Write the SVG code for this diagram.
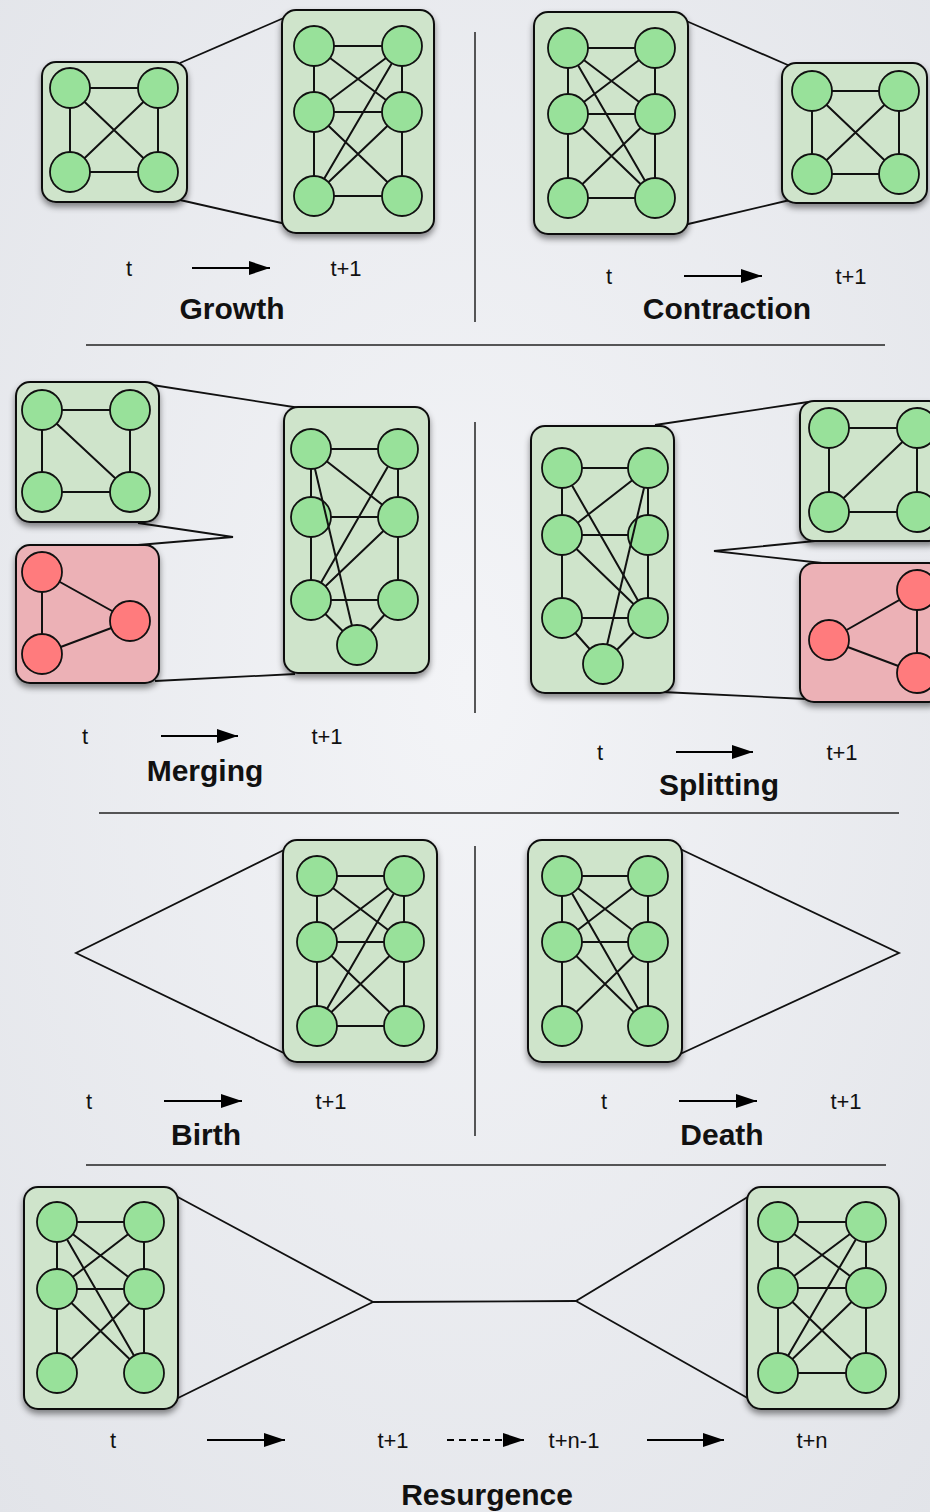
<svg xmlns="http://www.w3.org/2000/svg" width="930" height="1512" viewBox="0 0 930 1512">
  <defs>
    <radialGradient id="bg" cx="50%" cy="45%" r="75%">
      <stop offset="0" stop-color="#f3f4f7"/>
      <stop offset="1" stop-color="#e2e4e9"/>
    </radialGradient>
    <filter id="shadow" x="-20%" y="-20%" width="140%" height="140%">
      <feDropShadow dx="0" dy="4" stdDeviation="3" flood-color="#000" flood-opacity="0.45"/>
    </filter>
    <marker id="head" markerUnits="userSpaceOnUse" markerWidth="22" markerHeight="14" refX="21" refY="7" orient="auto">
      <path d="M0,0 L21,7 L0,14 z" fill="#000" stroke="none"/>
    </marker>
    <style>
      .box { fill: #cfe4cb; stroke: #111; stroke-width: 2; filter: url(#shadow); }
      .rbox { fill: #ecb1b6; stroke: #111; stroke-width: 2; filter: url(#shadow); }
      .n { fill: #98e19a; stroke: #111; stroke-width: 1.8; }
      .rn { fill: #ff7b7d; stroke: #111; stroke-width: 1.8; }
      .e { stroke: #111; stroke-width: 2; fill: none; }
      .c { stroke: #111; stroke-width: 1.8; fill: none; }
      .div { stroke: #222; stroke-width: 1.5; }
      .arr { stroke: #000; stroke-width: 1.8; marker-end: url(#head); }
      .dash { stroke-dasharray: 7 5; }
      .lbl { font-family: "Liberation Sans", Arial, sans-serif; font-size: 22px; fill: #111; text-anchor: middle; }
      .ttl { font-family: "Liberation Sans", Arial, sans-serif; font-size: 30px; font-weight: bold; fill: #111; text-anchor: middle; }
    </style>
  </defs>

  <rect width="930" height="1512" fill="url(#bg)"/>

  <!-- separators -->
  <g id="dividers">
    <line class="div" x1="475" y1="32" x2="475" y2="322"/>
    <line class="div" x1="475" y1="422" x2="475" y2="713"/>
    <line class="div" x1="475" y1="846" x2="475" y2="1136"/>
    <line class="div" x1="86" y1="345" x2="885" y2="345"/>
    <line class="div" x1="99" y1="813" x2="899" y2="813"/>
    <line class="div" x1="86" y1="1165" x2="886" y2="1165"/>
  </g>

  <!-- connectors between community snapshots -->
  <g id="connectors">
    <line class="c" x1="180" y1="63" x2="286" y2="17"/>
    <line class="c" x1="180" y1="200" x2="286" y2="224"/>
    <line class="c" x1="684" y1="20" x2="790" y2="66"/>
    <line class="c" x1="684" y1="225" x2="790" y2="200"/>
    <line class="c" x1="146" y1="384" x2="300" y2="408"/>
    <polyline class="c" points="138,523 233,537 138,545"/>
    <line class="c" x1="155" y1="681" x2="295" y2="674"/>
    <line class="c" x1="655" y1="425" x2="808" y2="402"/>
    <polyline class="c" points="815,541 714,551 822,563"/>
    <line class="c" x1="662" y1="692" x2="806" y2="699"/>
    <polyline class="c" points="288,848 76,953 288,1055"/>
    <polyline class="c" points="678,848 899,953 678,1055"/>
    <polyline class="c" points="174,1195 373,1302 174,1400"/>
    <line class="c" x1="373" y1="1302" x2="576" y2="1301"/>
    <polyline class="c" points="751,1195 576,1301 751,1400"/>
  </g>

  <!-- Growth -->
  <g id="growth-t">
    <rect class="box" x="42" y="62" width="145" height="140" rx="14"/>
    <path class="e" d="M70,88H158M70,88V172M158,88V172M70,172H158M70,88L158,172M158,88L70,172"/>
    <circle class="n" cx="70" cy="88" r="20"/><circle class="n" cx="158" cy="88" r="20"/>
    <circle class="n" cx="70" cy="172" r="20"/><circle class="n" cx="158" cy="172" r="20"/>
  </g>
  <g id="growth-t1">
    <rect class="box" x="282" y="10" width="152" height="223" rx="14"/>
    <path class="e" d="M314,46H402M314,46V196M402,46V196M314,112H402M314,196H402M314,46L402,112M402,46L314,112M402,46L314,196M314,112L402,196M402,112L314,196"/>
    <circle class="n" cx="314" cy="46" r="20"/><circle class="n" cx="402" cy="46" r="20"/>
    <circle class="n" cx="314" cy="112" r="20"/><circle class="n" cx="402" cy="112" r="20"/>
    <circle class="n" cx="314" cy="196" r="20"/><circle class="n" cx="402" cy="196" r="20"/>
  </g>

  <!-- Contraction -->
  <g id="contraction-t">
    <rect class="box" x="534" y="12" width="154" height="222" rx="14"/>
    <path class="e" d="M568,48H655M568,48V198M655,48V198M568,114H655M568,198H655M568,48L655,114M568,48L655,198M655,48L568,114M568,114L655,198M655,114L568,198"/>
    <circle class="n" cx="568" cy="48" r="20"/><circle class="n" cx="655" cy="48" r="20"/>
    <circle class="n" cx="568" cy="114" r="20"/><circle class="n" cx="655" cy="114" r="20"/>
    <circle class="n" cx="568" cy="198" r="20"/><circle class="n" cx="655" cy="198" r="20"/>
  </g>
  <g id="contraction-t1">
    <rect class="box" x="782" y="63" width="145" height="140" rx="14"/>
    <path class="e" d="M812,91H899M812,91V174M899,91V174M812,174H899M812,91L899,174M899,91L812,174"/>
    <circle class="n" cx="812" cy="91" r="20"/><circle class="n" cx="899" cy="91" r="20"/>
    <circle class="n" cx="812" cy="174" r="20"/><circle class="n" cx="899" cy="174" r="20"/>
  </g>

  <!-- Merging -->
  <g id="merging-a">
    <rect class="box" x="16" y="382" width="143" height="140" rx="14"/>
    <path class="e" d="M42,410H130M42,410V492M130,410V492M42,492H130M42,410L130,492"/>
    <circle class="n" cx="42" cy="410" r="20"/><circle class="n" cx="130" cy="410" r="20"/>
    <circle class="n" cx="42" cy="492" r="20"/><circle class="n" cx="130" cy="492" r="20"/>
  </g>
  <g id="merging-b">
    <rect class="rbox" x="16" y="545" width="143" height="138" rx="14"/>
    <path class="e" d="M42,572L130,621L42,654Z"/>
    <circle class="rn" cx="42" cy="572" r="20"/><circle class="rn" cx="130" cy="621" r="20"/>
    <circle class="rn" cx="42" cy="654" r="20"/>
  </g>
  <g id="merging-t1">
    <rect class="box" x="284" y="407" width="145" height="266" rx="14"/>
    <path class="e" d="M311,449H398M311,449V600M398,449V600M311,517H398M311,600H398M311,449L398,517M398,449L311,600M398,517L311,600M311,600L357,645M398,600L357,645"/>
    <circle class="n" cx="311" cy="449" r="20"/><circle class="n" cx="398" cy="449" r="20"/>
    <circle class="n" cx="311" cy="517" r="20"/><circle class="n" cx="398" cy="517" r="20"/>
    <circle class="n" cx="311" cy="600" r="20"/><circle class="n" cx="398" cy="600" r="20"/>
    <circle class="n" cx="357" cy="645" r="20"/>
    <path class="e" d="M315,469L352,626"/>
  </g>

  <!-- Splitting -->
  <g id="splitting-t">
    <rect class="box" x="531" y="426" width="143" height="267" rx="14"/>
    <path class="e" d="M562,468H648M562,468V618M648,468V618M562,535H648M562,618H648M562,468L648,618M648,468L562,535M562,535L648,618M562,618L603,664M648,618L603,664"/>
    <circle class="n" cx="562" cy="468" r="20"/><circle class="n" cx="648" cy="468" r="20"/>
    <circle class="n" cx="562" cy="535" r="20"/><circle class="n" cx="648" cy="535" r="20"/>
    <circle class="n" cx="562" cy="618" r="20"/><circle class="n" cx="648" cy="618" r="20"/>
    <circle class="n" cx="603" cy="664" r="20"/>
    <path class="e" d="M644,488L607,645"/>
  </g>
  <g id="splitting-a">
    <rect class="box" x="800" y="401" width="143" height="140" rx="14"/>
    <path class="e" d="M829,428H917M829,428V512M917,428V512M829,512H917M917,428L829,512"/>
    <circle class="n" cx="829" cy="428" r="20"/><circle class="n" cx="917" cy="428" r="20"/>
    <circle class="n" cx="829" cy="512" r="20"/><circle class="n" cx="917" cy="512" r="20"/>
  </g>
  <g id="splitting-b">
    <rect class="rbox" x="800" y="563" width="143" height="139" rx="14"/>
    <path class="e" d="M829,640L917,590L917,673Z"/>
    <circle class="rn" cx="829" cy="640" r="20"/><circle class="rn" cx="917" cy="590" r="20"/>
    <circle class="rn" cx="917" cy="673" r="20"/>
  </g>

  <!-- Birth -->
  <g id="birth-t1">
    <rect class="box" x="283" y="840" width="154" height="222" rx="14"/>
    <path class="e" d="M317,876H404M317,876V1026M404,876V1026M317,942H404M317,1026H404M317,876L404,942M404,876L317,942M404,876L317,1026M317,942L404,1026M404,942L317,1026"/>
    <circle class="n" cx="317" cy="876" r="20"/><circle class="n" cx="404" cy="876" r="20"/>
    <circle class="n" cx="317" cy="942" r="20"/><circle class="n" cx="404" cy="942" r="20"/>
    <circle class="n" cx="317" cy="1026" r="20"/><circle class="n" cx="404" cy="1026" r="20"/>
  </g>

  <!-- Death -->
  <g id="death-t">
    <rect class="box" x="528" y="840" width="154" height="222" rx="14"/>
    <path class="e" d="M562,876H648M562,876V1026M648,876V1026M562,942H648M562,876L648,942M562,876L648,1026M648,876L562,942M562,942L648,1026M648,942L562,1026"/>
    <circle class="n" cx="562" cy="876" r="20"/><circle class="n" cx="648" cy="876" r="20"/>
    <circle class="n" cx="562" cy="942" r="20"/><circle class="n" cx="648" cy="942" r="20"/>
    <circle class="n" cx="562" cy="1026" r="20"/><circle class="n" cx="648" cy="1026" r="20"/>
  </g>

  <!-- Resurgence -->
  <g id="resurgence-t">
    <rect class="box" x="24" y="1187" width="154" height="222" rx="14"/>
    <path class="e" d="M57,1222H144M57,1222V1373M144,1222V1373M57,1289H144M57,1222L144,1289M57,1222L144,1373M144,1222L57,1289M57,1289L144,1373M144,1289L57,1373"/>
    <circle class="n" cx="57" cy="1222" r="20"/><circle class="n" cx="144" cy="1222" r="20"/>
    <circle class="n" cx="57" cy="1289" r="20"/><circle class="n" cx="144" cy="1289" r="20"/>
    <circle class="n" cx="57" cy="1373" r="20"/><circle class="n" cx="144" cy="1373" r="20"/>
  </g>
  <g id="resurgence-tn">
    <rect class="box" x="747" y="1187" width="152" height="222" rx="14"/>
    <path class="e" d="M778,1222H866M778,1222V1373M866,1222V1373M778,1288H866M778,1373H866M778,1222L866,1288M866,1222L778,1288M866,1222L778,1373M778,1288L866,1373M866,1288L778,1373"/>
    <circle class="n" cx="778" cy="1222" r="20"/><circle class="n" cx="866" cy="1222" r="20"/>
    <circle class="n" cx="778" cy="1288" r="20"/><circle class="n" cx="866" cy="1288" r="20"/>
    <circle class="n" cx="778" cy="1373" r="20"/><circle class="n" cx="866" cy="1373" r="20"/>
  </g>

  <!-- time axes and titles -->
  <g id="labels">
    <text class="lbl" x="129" y="276">t</text>
    <line class="arr" x1="192" y1="268" x2="270" y2="268"/>
    <text class="lbl" x="346" y="276">t+1</text>
    <text class="ttl" x="232" y="319">Growth</text>

    <text class="lbl" x="609" y="284">t</text>
    <line class="arr" x1="684" y1="276" x2="762" y2="276"/>
    <text class="lbl" x="851" y="284">t+1</text>
    <text class="ttl" x="727" y="319">Contraction</text>

    <text class="lbl" x="85" y="744">t</text>
    <line class="arr" x1="161" y1="736" x2="238" y2="736"/>
    <text class="lbl" x="327" y="744">t+1</text>
    <text class="ttl" x="205" y="781">Merging</text>

    <text class="lbl" x="600" y="760">t</text>
    <line class="arr" x1="676" y1="752" x2="753" y2="752"/>
    <text class="lbl" x="842" y="760">t+1</text>
    <text class="ttl" x="719" y="795">Splitting</text>

    <text class="lbl" x="89" y="1109">t</text>
    <line class="arr" x1="164" y1="1101" x2="242" y2="1101"/>
    <text class="lbl" x="331" y="1109">t+1</text>
    <text class="ttl" x="206" y="1145">Birth</text>

    <text class="lbl" x="604" y="1109">t</text>
    <line class="arr" x1="679" y1="1101" x2="757" y2="1101"/>
    <text class="lbl" x="846" y="1109">t+1</text>
    <text class="ttl" x="722" y="1145">Death</text>

    <text class="lbl" x="113" y="1448">t</text>
    <line class="arr" x1="207" y1="1440" x2="285" y2="1440"/>
    <text class="lbl" x="393" y="1448">t+1</text>
    <line class="arr dash" x1="447" y1="1440" x2="524" y2="1440"/>
    <text class="lbl" x="574" y="1448">t+n-1</text>
    <line class="arr" x1="647" y1="1440" x2="724" y2="1440"/>
    <text class="lbl" x="812" y="1448">t+n</text>
    <text class="ttl" x="487" y="1505">Resurgence</text>
  </g>
</svg>
